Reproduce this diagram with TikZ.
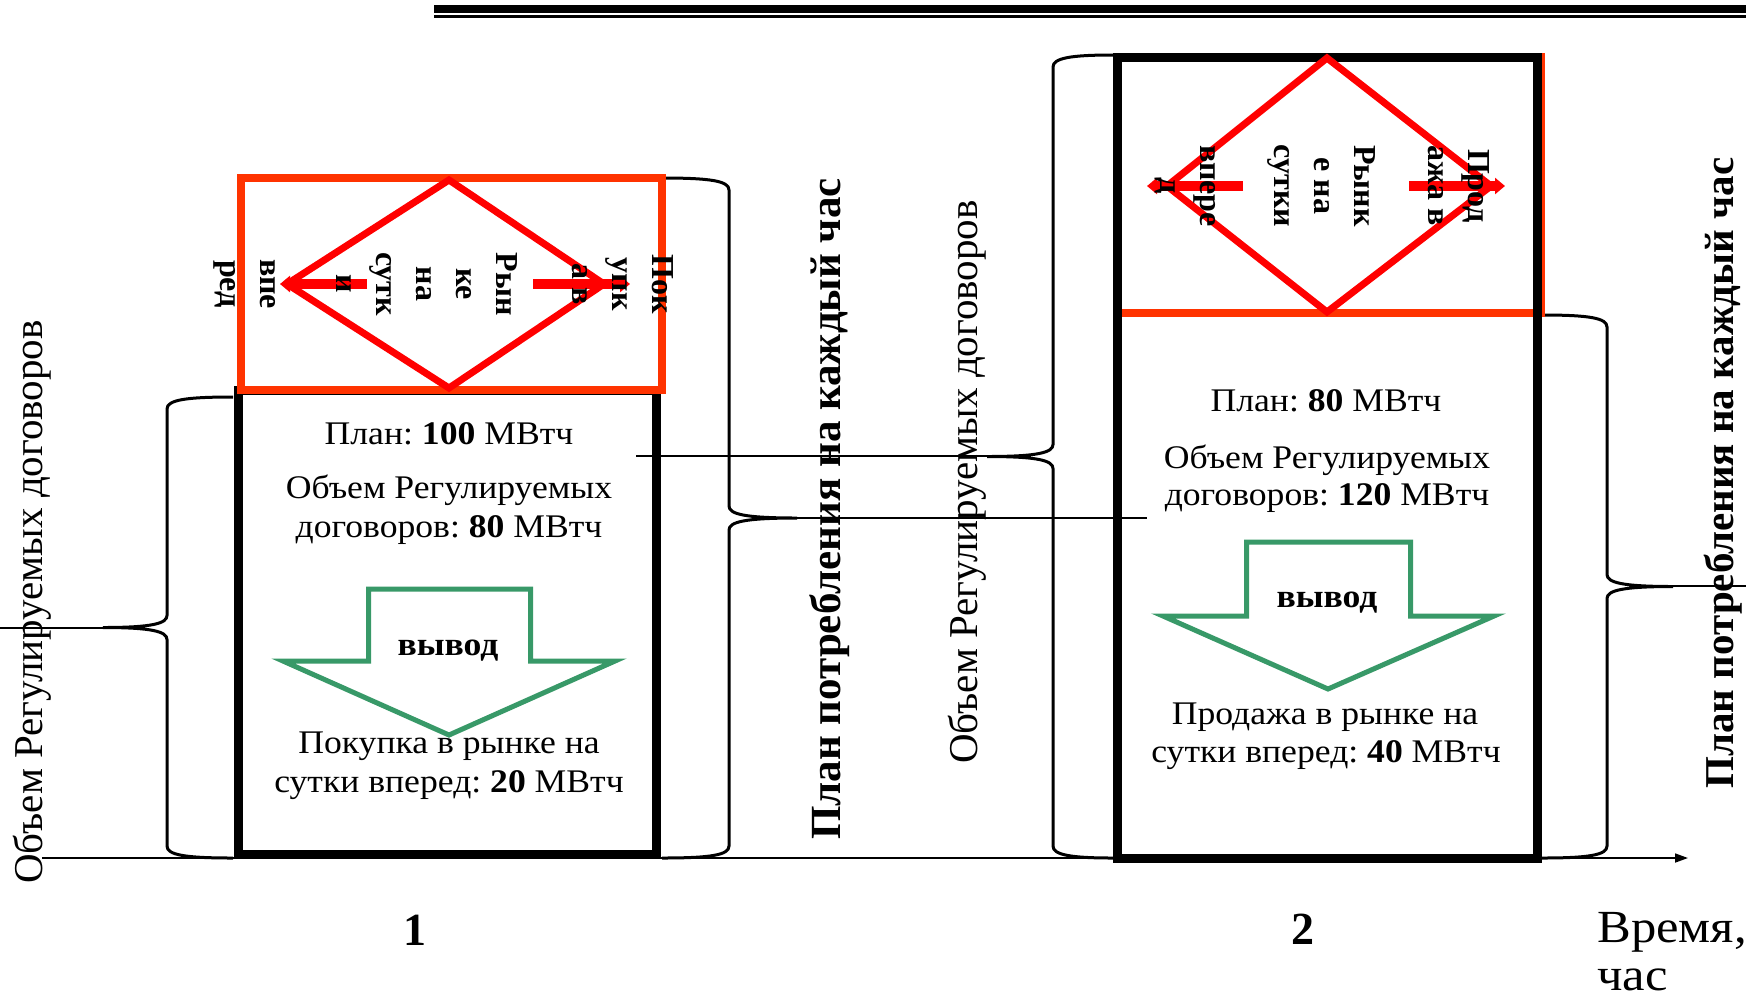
\documentclass[tikz,border=0pt]{standalone}
\usepackage{fontspec}
\setmainfont{Liberation Serif}
\newfontfamily\boxfont[FakeStretch=1.08]{Liberation Serif}
\newfontfamily\timefont[FakeStretch=1.1]{Liberation Serif}
\usetikzlibrary{arrows.meta}
\definecolor{boxred}{RGB}{255,51,0}
\definecolor{diared}{RGB}{255,0,0}
\definecolor{arrgreen}{RGB}{56,153,104}
\frenchspacing
% brace: E (end x), V (vertical x), T (tip x), Y1, Y2, d (+1 tip left, -1 tip right)
\newcommand{\mybrace}[6]{%
  \draw[bracestyle] (#1,#4) .. controls ({#2+(#6)*18},#4) and (#2,{#4+3}) .. (#2,{#4+12})
    -- (#2,{(#4+#5)/2-12}) .. controls (#2,{(#4+#5)/2-4}) and ({#2-(#6)*15},{(#4+#5)/2}) .. (#3,{(#4+#5)/2})
    .. controls ({#2-(#6)*15},{(#4+#5)/2}) and (#2,{(#4+#5)/2+4}) .. (#2,{(#4+#5)/2+12})
    -- (#2,{#5-12}) .. controls (#2,{#5-3}) and ({#2+(#6)*18},#5) .. (#1,#5);}
\begin{document}
\frenchspacing
\begin{tikzpicture}[x=0.5pt,y=-0.5pt,
  blackbox/.style={draw=black,line width=4.5pt},
  redbox/.style={draw=boxred,line width=4pt},
  diam/.style={draw=diared,line width=3.5pt,line join=miter},
  redarr/.style={draw=diared,line width=4.75pt,-{Triangle[length=5pt,width=8pt]}},
  greenarr/.style={draw=arrgreen,line width=2.5pt,line join=miter},
  bracestyle/.style={draw=black,line width=1.5pt},
  thinline/.style={draw=black,line width=0.75pt},
  boxtxt/.style={font=\boxfont\fontsize{16.5}{20}\selectfont,inner sep=0pt,anchor=base},
  boxtxtb/.style={font=\boxfont\bfseries\fontsize{16.5}{20}\selectfont,inner sep=0pt,anchor=base},
  diatxt/.style={font=\bfseries\fontsize{16}{20}\selectfont,rotate=-90,align=center,inner sep=0pt},
  vlab/.style={font=\fontsize{20.5}{24}\selectfont,rotate=90,anchor=base,inner sep=0pt},
  vlabb/.style={font=\bfseries\fontsize{21.5}{24}\selectfont,rotate=90,anchor=base,inner sep=0pt},
  numlab/.style={font=\bfseries\fontsize{23}{26}\selectfont,anchor=base,inner sep=0pt},
  timelab/.style={font=\timefont\fontsize{23}{26}\selectfont,anchor=base west,inner sep=0pt}
]
\fill[white] (0,0) rectangle (1746,1003);
\useasboundingbox (0,0) rectangle (1746,1003);

% top double rule
\coordinate (ruleA0) at (434,9);   \coordinate (ruleA1) at (1746,9);
\coordinate (ruleB0) at (434,16.7); \coordinate (ruleB1) at (1746,16.7);
\draw[line width=3.75pt] (ruleA0) -- (ruleA1);
\draw[line width=1.5pt] (ruleB0) -- (ruleB1);

% braces
\mybrace{233}{167}{103}{397}{858}{1}
\mybrace{662}{729}{797}{178}{858}{-1}
\mybrace{1113}{1053}{987}{55}{858}{1}
\mybrace{1542}{1607}{1673}{315}{858}{-1}

% brace tips and connector lines
\coordinate (b1Ltip) at (103,628);  \coordinate (leftend) at (0,628);
\coordinate (b1Rtip) at (797,518);  \coordinate (lBend) at (1147,518);
\coordinate (b2Ltip) at (987,456);  \coordinate (lAstart) at (636,456);
\coordinate (b2Rtip) at (1673,586); \coordinate (rightend) at (1746,586);
\draw[line width=1pt] (leftend) -- (b1Ltip);
\draw[thinline] (b1Rtip) -- (lBend);
\draw[thinline] (lAstart) -- (b2Ltip);
\draw[line width=1pt] (b2Rtip) -- (rightend);

% time axis
\coordinate (ax0) at (42,858); \coordinate (ax1) at (1688,858);
\draw[line width=0.85pt,-{Triangle[length=6.5pt,width=4.5pt]}] (ax0) -- (ax1);

% hour 1
\draw[blackbox] (238,390) rectangle (656,854);
\draw[redbox] (241,178) rectangle (662,390);
\draw[diam] (449,180) -- (604,284) -- (449,388) -- (287,284) -- cycle;
\draw[redarr] (367,284) -- (280,284);
\draw[redarr] (533,284) -- (630,284);
\draw[greenarr] (368.5,589) -- (530.5,589) -- (530.5,661) -- (615,661) -- (449,735)
  -- (283,661) -- (368.5,661) -- cycle;

% hour 2
\draw[redbox] (1117,57) rectangle (1541,313);
\draw[blackbox] (1117,57) rectangle (1537,858);
\draw[diam] (1327,58) -- (1491,186) -- (1327,312) -- (1167,186) -- cycle;
\draw[redarr] (1243,186) -- (1147,186);
\draw[redarr] (1409,186) -- (1505,186);
\draw[greenarr] (1246.5,542) -- (1410.5,542) -- (1410.5,616) -- (1494,616) -- (1328,689)
  -- (1163,616) -- (1246.5,616) -- cycle;

% diamond texts
\node[diatxt] (dt1) at (444,284) {Пок\\упк\\а в\\[18pt]Рын\\ке\\на\\сутк\\и\\[18pt]впе\\ред};
\node[diatxt] (dt2) at (1322,186) {Прод\\ажа в\\[17pt]Рынк\\е на\\сутки\\[17pt]впере\\д};

% box 1 texts
\node[boxtxt] (p1) at (449,444) {План: \textbf{100} МВтч};
\node[boxtxt] (o1) at (449,498) {Объем Регулируемых};
\node[boxtxt] (c1) at (449,537) {договоров: \textbf{80} МВтч};
\node[boxtxtb] (w1) at (448,655) {вывод};
\node[boxtxt] (k1) at (449,753) {Покупка в рынке на};
\node[boxtxt] (s1) at (449,792) {сутки вперед: \textbf{20} МВтч};

% box 2 texts
\node[boxtxt] (p2) at (1326,411) {План: \textbf{80} МВтч};
\node[boxtxt] (o2) at (1327,468) {Объем Регулируемых};
\node[boxtxt] (c2) at (1327,505) {договоров: \textbf{120} МВтч};
\node[boxtxtb] (w2) at (1327,607) {вывод};
\node[boxtxt] (k2) at (1325,724) {Продажа в рынке на};
\node[boxtxt] (s2) at (1326,762) {сутки вперед: \textbf{40} МВтч};

% vertical labels
\node[vlab] (vl1) at (42,602) {Объем Регулируемых договоров};
\node[vlabb] (vl2) at (840,509) {План потребления на каждый час};
\node[vlab] (vl3) at (977,482) {Объем Регулируемых договоров};
\node[vlabb,font=\bfseries\fontsize{20.5}{24}\selectfont] (vl4) at (1733,473) {План потребления на каждый час};

% axis labels
\node[numlab] (n1) at (415,945) {1};
\node[numlab] (n2) at (1303,944) {2};
\node[timelab] (t1) at (1597,942) {Время,};
\node[timelab] (t2) at (1597,990) {час};
\end{tikzpicture}
\end{document}
